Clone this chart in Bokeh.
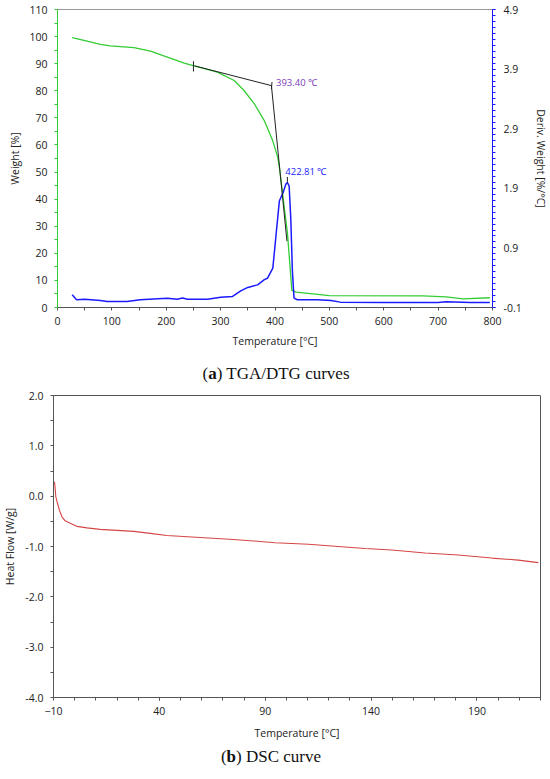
from bokeh.plotting import figure
from bokeh.models import Range1d, LinearAxis, FixedTicker, PrintfTickFormatter, Label, Span, Div
from bokeh.embed import file_html
from bokeh.resources import INLINE

# ---------------- data: TGA / DTG ----------------
TGA_T = [27, 48.5, 79, 97, 140.7, 171, 202, 233, 253, 294, 325, 343, 362, 380, 395.7,
         405, 408, 414, 423, 431, 439, 500, 672, 715, 746, 795]
TGA_W = [99.6, 98.6, 97.1, 96.6, 95.9, 94.6, 92.4, 90.2, 89.1, 86.9, 83.8, 80.1, 75.2, 69.1, 61.6,
         55.5, 51.8, 42.0, 27.2, 6.3, 5.7, 4.4, 4.3, 3.9, 3.2, 3.6]

DTG_T = [27, 35, 50, 79, 91, 128, 152, 202, 220, 230, 239, 276, 300, 322, 337, 350, 368,
         380.5, 386, 396, 402, 408, 412, 415, 420, 422.81, 426, 429, 432, 435, 441, 478, 503,
         520, 600, 700, 715, 730, 760, 795]
DTG_D = [0.114, 0.03, 0.04, 0.018, 0.0, 0.0, 0.03, 0.057, 0.04, 0.06, 0.04, 0.04, 0.07, 0.085,
         0.18, 0.237, 0.28, 0.367, 0.39, 0.56, 1.125, 1.686, 1.77, 1.83, 1.97, 1.995, 1.94, 1.4,
         0.51, 0.057, 0.03, 0.03, 0.018, -0.01, -0.016, -0.016, -0.005, -0.008, -0.016, -0.016]

TAN1_T = [252, 393.4]
TAN1_W = [89.2, 81.9]
TAN2_T = [393.4, 422]
TAN2_W = [81.9, 24.5]
MARK1_T = [250, 250]
MARK1_W = [87.1, 90.9]
MARK2_T = [394.5, 393.4]
MARK2_W = [83.2, 80.6]
PEAK_T = [422.81, 422.81]
PEAK_D = [1.995, 2.09]

ONSET_LABEL = "393.40 \u2103"
PEAK_LABEL = "422.81 \u2103"

TGA_XTICKS = [0, 100, 200, 300, 400, 500, 600, 700, 800]
TGA_XMINOR = [50, 150, 250, 350, 450, 550, 650, 750]
TGA_YTICKS = [0, 10, 20, 30, 40, 50, 60, 70, 80, 90, 100, 110]
TGA_YMINOR = [5, 15, 25, 35, 45, 55, 65, 75, 85, 95, 105]
DTG_YTICKS = [-0.1, 0.9, 1.9, 2.9, 3.9, 4.9]
DTG_YMINOR = [round(-0.1 + 0.1 * i, 1) for i in range(51)]

# ---------------- data: DSC ----------------
DSC_T = [-9.5, -8.9, -8.1, -7.2, -6.0, -4.5, -2.1, 1.0, 5.8, 12, 20, 27.8, 35.7, 43.5, 51.4,
         59.3, 67.1, 75, 84.4, 94.7, 110.4, 123, 137.2, 149.8, 165.5, 181.2, 197, 209.5, 219]
DSC_H = [0.285, -0.01, -0.146, -0.28, -0.41, -0.49, -0.54, -0.60, -0.63, -0.66, -0.68, -0.70,
         -0.74, -0.78, -0.80, -0.82, -0.84, -0.86, -0.89, -0.925, -0.955, -0.995, -1.04, -1.07,
         -1.13, -1.17, -1.23, -1.27, -1.32]

DSC_XTICKS = [-10, 40, 90, 140, 190]
DSC_XMINOR = list(range(0, 221, 10))
DSC_YTICKS = [-4.0, -3.0, -2.0, -1.0, 0.0, 1.0, 2.0]
DSC_YMINOR = [-3.5, -2.5, -1.5, -0.5, 0.5, 1.5]

CAPTION_A = "(<b>a</b>) TGA/DTG curves"
CAPTION_B = "(<b>b</b>) DSC curve"

FONT = "Open Sans"
SERIF = "Liberation Serif"
GREEN = "#33cc33"
BLUE = "#1a1aff"
PURPLE = "#7a3cb8"
RED = "#d64545"
GRAY = "#555555"


def style_axis(ax, color, label_standoff, title_standoff):
    ax.axis_line_color = color
    ax.major_tick_line_color = color
    ax.minor_tick_line_color = color
    ax.major_tick_out = 3
    ax.major_tick_in = 0
    ax.minor_tick_out = 3
    ax.minor_tick_in = 0
    ax.major_label_text_font = FONT
    ax.major_label_text_font_size = "10.5px"
    ax.major_label_text_color = "#222222"
    ax.major_label_standoff = label_standoff
    ax.axis_label_text_font = FONT
    ax.axis_label_text_font_size = "10.5px"
    ax.axis_label_text_font_style = "normal"
    ax.axis_label_text_color = "#222222"
    ax.axis_label_standoff = title_standoff


# ---------------- top figure ----------------
p1 = figure(width=550, height=355, x_range=Range1d(0, 800), y_range=Range1d(0, 110),
            output_backend="svg", toolbar_location=None,
            min_border_left=57, min_border_right=58, min_border_top=9, min_border_bottom=48)
p1.extra_y_ranges = {"dtg": Range1d(-0.1, 4.9)}
p1.xgrid.visible = False
p1.ygrid.visible = False
p1.outline_line_color = None

p1.xaxis.ticker = FixedTicker(ticks=TGA_XTICKS, minor_ticks=TGA_XMINOR)
p1.xaxis.axis_label = "Temperature [\u00b0C]"
style_axis(p1.xaxis[0], GRAY, 6, 6)

p1.yaxis.ticker = FixedTicker(ticks=TGA_YTICKS, minor_ticks=TGA_YMINOR)
p1.yaxis.axis_label = "Weight [%]"
style_axis(p1.yaxis[0], GREEN, 7, 4)

rax = LinearAxis(y_range_name="dtg", axis_label="Deriv. Weight [%/\u00b0C]",
                 ticker=FixedTicker(ticks=DTG_YTICKS, minor_ticks=DTG_YMINOR),
                 formatter=PrintfTickFormatter(format="%.1f"))
style_axis(rax, BLUE, 8, 9)
p1.add_layout(rax, "right")

p1.add_layout(Span(location=110, dimension="width", line_color="#333333", line_width=1))

p1.line(TGA_T, TGA_W, line_color=GREEN, line_width=1.3)
p1.line(DTG_T, DTG_D, line_color=BLUE, line_width=1.5, y_range_name="dtg")
p1.line(TAN1_T, TAN1_W, line_color="#222222", line_width=1)
p1.line(TAN2_T, TAN2_W, line_color="#222222", line_width=1)
p1.line(MARK1_T, MARK1_W, line_color="#222222", line_width=1)
p1.line(MARK2_T, MARK2_W, line_color="#222222", line_width=1)
p1.line(PEAK_T, PEAK_D, line_color="#222222", line_width=1, y_range_name="dtg")

p1.add_layout(Label(x=401.8, y=83.2, text=ONSET_LABEL, text_font=FONT, text_font_size="9.5px",
                    text_color=PURPLE, text_baseline="middle", text_align="left"))
p1.add_layout(Label(x=419, y=2.19, y_range_name="dtg", text=PEAK_LABEL, text_font=FONT,
                    text_font_size="9.5px", text_color=BLUE, text_baseline="middle",
                    text_align="left"))

cap_a = Div(text=CAPTION_A, width=550, height=30, margin=0,
            styles={"font-family": SERIF, "font-size": "17px", "line-height": "20px",
                    "padding-top": "9px", "text-align": "center", "color": "#111111",
                    "box-sizing": "border-box", "padding-left": "2px"})

# ---------------- bottom figure ----------------
p2 = figure(width=550, height=357, x_range=Range1d(-10, 220), y_range=Range1d(-4.0, 2.0),
            output_backend="svg", toolbar_location=None,
            min_border_left=53, min_border_right=10, min_border_top=10, min_border_bottom=45)
p2.xgrid.visible = False
p2.ygrid.visible = False
p2.outline_line_color = GRAY
p2.outline_line_width = 1

p2.xaxis.ticker = FixedTicker(ticks=DSC_XTICKS, minor_ticks=DSC_XMINOR)
p2.xaxis.axis_label = "Temperature [\u00b0C]"
style_axis(p2.xaxis[0], GRAY, 6, 8)
p2.yaxis.ticker = FixedTicker(ticks=DSC_YTICKS, minor_ticks=DSC_YMINOR)
p2.yaxis.formatter = PrintfTickFormatter(format="%.1f")
p2.yaxis.axis_label = "Heat Flow [W/g]"
style_axis(p2.yaxis[0], GRAY, 7, 5)

p2.line(DSC_T, DSC_H, line_color=RED, line_width=1.1)

cap_b = Div(text=CAPTION_B, width=550, height=37, margin=0,
            styles={"font-family": SERIF, "font-size": "17px", "line-height": "20px",
                    "padding-top": "5px", "text-align": "center", "color": "#111111",
                    "box-sizing": "border-box", "padding-right": "8px"})

open("out.html", "w").write(file_html([p1, cap_a, p2, cap_b], INLINE))
